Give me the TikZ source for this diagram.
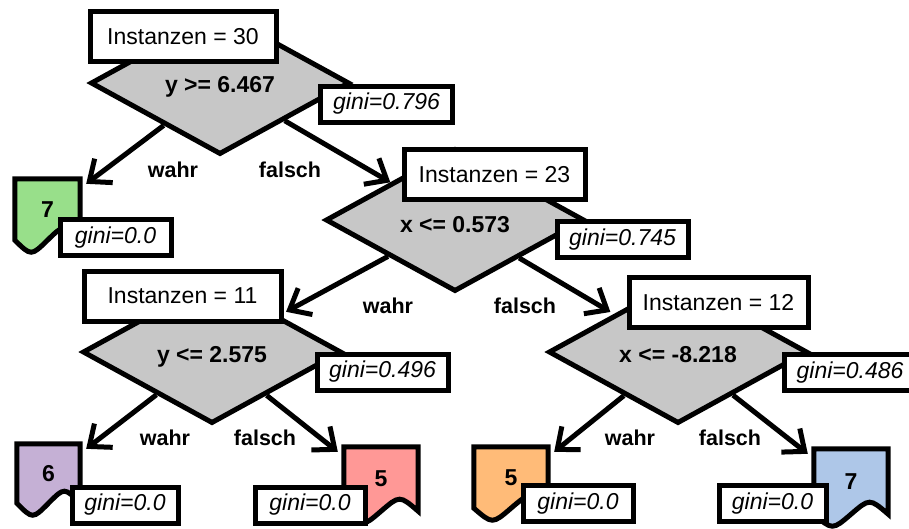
\documentclass[tikz,border=0pt]{standalone}
\usepackage{fontspec}
\setmainfont{Liberation Sans}
\usetikzlibrary{shapes.geometric,arrows.meta,calc,backgrounds}
\definecolor{dgray}{RGB}{199,199,199}
\definecolor{lgreen}{RGB}{152,223,138}
\definecolor{lpurple}{RGB}{197,176,213}
\definecolor{lred}{RGB}{255,152,150}
\definecolor{lorange}{RGB}{255,187,120}
\definecolor{lblue}{RGB}{174,199,232}
\newcommand\leafshape[2]{%
  \begin{scope}[on background layer]
    \filldraw[fill=#2, line width=5pt, line join=miter]
      (#1.south west) -- (#1.north west) -- (#1.north east) -- (#1.south east)
      .. controls ($(#1.south east)!0.25!(#1.south west)+(0,-16)$) .. (#1.south)
      .. controls ($(#1.south west)!0.25!(#1.south east)+(0,16)$) .. (#1.south west) -- cycle;
  \end{scope}}
\begin{document}
\begin{tikzpicture}[x=1pt,y=-1pt,
  dia/.style={diamond, draw, line width=5pt, fill=dgray, minimum width=259pt, minimum height=143pt, inner sep=0pt},
  instbox/.style={draw, line width=5pt, fill=white, minimum height=50pt, inner sep=0pt, font=\fontsize{23}{27}\selectfont},
  ginibox/.style={draw, line width=5pt, fill=white, minimum height=36pt, inner sep=0pt, font=\fontsize{23}{27}\selectfont\itshape},
  cond/.style={inner sep=0pt, font=\fontsize{23}{27}\selectfont\bfseries},
  lbl/.style={inner sep=0pt, font=\fontsize{21.5}{25}\selectfont\bfseries},
  leafnode/.style={inner sep=0pt, font=\fontsize{23}{27}\selectfont\bfseries},
  arr/.style={line width=5pt, -{Straight Barb[length=18pt,width=30pt,line width=5pt]}}
]
\useasboundingbox (0,0) rectangle (909,528);
\clip (0,0) rectangle (909,528);

% leaves
\node[leafnode, minimum width=65pt, minimum height=61pt] (L1) at (47.5,209.5) {7};
\leafshape{L1}{lgreen}
\node[leafnode, minimum width=63pt, minimum height=59pt] (L2) at (48.5,473.5) {6};
\leafshape{L2}{lpurple}
\node[leafnode, minimum width=74pt, minimum height=64pt] (L3) at (381,479) {5};
\leafshape{L3}{lred}
\node[leafnode, minimum width=74pt, minimum height=61pt] (L4) at (511,477.5) {5};
\leafshape{L4}{lorange}
\node[leafnode, minimum width=74pt, minimum height=65pt] (L5) at (851,481.5) {7};
\leafshape{L5}{lblue}

% diamonds
\node[dia] (D1) at (220,83) {};
\node[dia] (D2) at (455,220) {};
\node[dia] (D3) at (212,352) {};
\node[dia] (D4) at (678,352) {};

% condition texts
\node[cond] (C1) at (220,87) {y >= 6.467};
\node[cond] (C2) at (455,225) {x <= 0.573};
\node[cond] (C3) at (212,357) {y <= 2.575};
\node[cond] (C4) at (678,355) {x <= -8.218};

% arrows
\draw[arr] (D1) -- ($(L1.north east)+(6,5)$);
\draw[arr] (D1) -- (D2);
\draw[arr, shorten >=8pt] (D2) -- (D3);
\draw[arr, shorten >=4pt] (D2) -- (D4);
\draw[arr] (D3) -- ($(L2.north east)+(6,5)$);
\draw[arr] (D3) -- ($(L3.north west)+(-6,5)$);
\draw[arr] (D4) -- ($(L4.north east)+(6,5)$);
\draw[arr] (D4) -- ($(L5.north west)+(-6,5)$);

% instance boxes
\node[instbox, minimum width=186pt] (B1) at (183,36.5) {Instanzen = 30};
\node[instbox, minimum width=181pt] (B2) at (494.5,174.5) {Instanzen = 23};
\node[instbox, minimum width=197pt] (B3) at (182.5,296) {Instanzen = 11};
\node[instbox, minimum width=179pt] (B4) at (718.5,302.5) {Instanzen = 12};

% gini boxes
\node[ginibox, minimum width=132pt] (G1) at (386.5,104) {gini=0.796};
\node[ginibox, minimum width=131pt] (G2) at (622.5,239.5) {gini=0.745};
\node[ginibox, minimum width=131pt] (G3) at (382.5,372) {gini=0.496};
\node[ginibox, minimum width=131pt] (G4) at (850,372.5) {gini=0.486};
\node[ginibox, minimum width=111pt] (GL1) at (115.5,237.5) {gini=0.0};
\node[ginibox, minimum width=106pt] (GL2) at (125,505) {gini=0.0};
\node[ginibox, minimum width=110pt] (GL3) at (310,505) {gini=0.0};
\node[ginibox, minimum width=110pt] (GL4) at (578,503.5) {gini=0.0};
\node[ginibox, minimum width=107pt] (GL5) at (772.5,503.5) {gini=0.0};

% edge labels
\node[lbl] (W1) at (173,170) {wahr};
\node[lbl] (F1) at (290,170) {falsch};
\node[lbl] (W2) at (388,306) {wahr};
\node[lbl] (F2) at (525,306) {falsch};
\node[lbl] (W3) at (165,438) {wahr};
\node[lbl] (F3) at (265,438) {falsch};
\node[lbl] (W4) at (630,438) {wahr};
\node[lbl] (F4) at (730,438) {falsch};
\end{tikzpicture}
\end{document}
